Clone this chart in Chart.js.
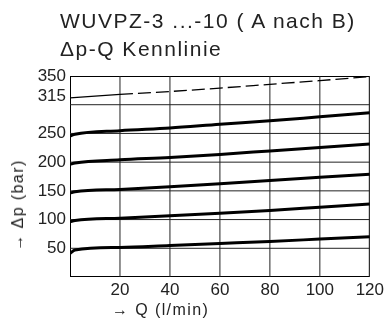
<!DOCTYPE html>
<html>
<head>
<meta charset="utf-8">
<script src="https://cdn.jsdelivr.net/npm/chart.js@4/dist/chart.umd.min.js"></script>
<style>
  html, body { margin: 0; padding: 0; background: #fff; }
  #wrap { position: relative; width: 387px; height: 320px; font-family: "Liberation Sans", Arial, sans-serif; color: #222; }
  #wrap canvas { position: absolute; left: 0; top: 0; }
  .txt { position: absolute; white-space: nowrap; line-height: 1; }
  #t1 { left: 60px; top: 10px; font-size: 21px; letter-spacing: 1.5px; }
  #t2 { left: 60px; top: 38px; font-size: 21px; letter-spacing: 1.5px; }
  #xt { left: 112px; top: 302px; font-size: 16px; letter-spacing: 1.4px; }
  #yt { left: 18px; top: 205px; font-size: 16px; letter-spacing: 1.4px; transform: translate(-50%, -50%) rotate(-90deg); }
</style>
</head>
<body>
<div id="wrap">
  <canvas id="chart" width="387" height="320"></canvas>
  <div class="txt" id="t1">WUVPZ-3 ...-10 ( A nach B)</div>
  <div class="txt" id="t2">Δp-Q Kennlinie</div>
  <div class="txt" id="xt">→ Q (l/min)</div>
  <div class="txt" id="yt">→ Δp (bar)</div>
</div>
<script>
// flow values (l/min)
const qValues = [0, 2, 20, 40, 60, 80, 100, 120];
// pressure drop curves (bar)
const p250 = [245.5, 248.5, 254.8, 259.5, 266, 272, 279, 286];
const p200 = [196, 198.5, 204, 208, 213.5, 219.5, 225.5, 231.5];
const p150 = [146, 148.5, 152.5, 157, 162.5, 168, 173.5, 179];
const p100 = [96, 98.5, 102.5, 106.5, 111, 116, 121.5, 127];
const p50 = [41, 47, 51.5, 55, 58.5, 62, 66, 70];
// 315 bar setting: solid up to 20 l/min, dashed beyond
const q315Solid = [0, 20];
const p315Solid = [312, 318];
const q315Dash = [20, 40, 60, 80, 100, 120];
const p315Dash = [318, 323, 329, 335.5, 342, 349];

const xMin = 0, xMax = 120, yMin = 0, yMax = 350;
const yTicks = [0, 50, 100, 150, 200, 250, 300, 315, 350];
const yLabels = ['', '50', '100', '150', '200', '250', '', '315', '350'];
const yGrid = [50, 100, 150, 200, 250, 300];
const xTicks = [0, 20, 40, 60, 80, 100, 120];
const xLabels = ['', '20', '40', '60', '80', '100', '120'];
const xGrid = [20, 40, 60, 80, 100];

const pts = (qs, ps) => ps.map((v, i) => ({ x: qs[i], y: v }));

function curve(qs, ps, width, dash) {
  return {
    data: pts(qs, ps),
    borderColor: '#000',
    borderWidth: width,
    borderDash: dash,
    pointRadius: 0,
    cubicInterpolationMode: 'monotone',
    order: 0
  };
}

// grid lines and frame as straight line datasets on the same scales
function rule(data, width, color) {
  return { data, borderColor: color, borderWidth: width, pointRadius: 0, tension: 0, order: 10 };
}
const gridSets = [
  ...xGrid.map(v => rule([{ x: v, y: yMin }, { x: v, y: yMax }], 1, '#222')),
  ...yGrid.map(v => rule([{ x: xMin, y: v }, { x: xMax, y: v }], 1, '#222')),
  rule([{ x: xMin, y: yMin }, { x: xMax, y: yMin }, { x: xMax, y: yMax }, { x: xMin, y: yMax }, { x: xMin, y: yMin }], 2, '#000')
];

const datasets = [
  curve(q315Solid, p315Solid, 1.3, []),
  curve(q315Dash, p315Dash, 1.3, [13, 5]),
  curve(qValues, p250, 3, []),
  curve(qValues, p200, 3, []),
  curve(qValues, p150, 3, []),
  curve(qValues, p100, 3, []),
  curve(qValues, p50, 3, []),
  ...gridSets
];

const font = { family: '"Liberation Sans", Arial, sans-serif', size: 17 };

new Chart(document.getElementById('chart'), {
  type: 'line',
  data: { datasets },
  options: {
    responsive: false,
    animation: false,
    layout: { padding: { top: 76, right: 15, left: 0, bottom: 0 } },
    plugins: { legend: { display: false }, tooltip: { enabled: false } },
    scales: {
      x: {
        type: 'linear',
        min: xMin, max: xMax,
        afterFit: s => { s.height = 43; },
        afterBuildTicks: s => { s.ticks = xTicks.map(v => ({ value: v })); },
        ticks: {
          color: '#222', font, padding: 3, maxRotation: 0, autoSkip: false,
          callback: (v, i) => xLabels[i]
        },
        grid: { display: false, drawTicks: false },
        border: { display: false }
      },
      y: {
        min: yMin, max: yMax,
        afterFit: s => { s.width = 70; },
        afterBuildTicks: s => { s.ticks = yTicks.map(v => ({ value: v })); },
        ticks: {
          color: '#222', font, padding: 4, autoSkip: false,
          callback: (v, i) => yLabels[i]
        },
        grid: { display: false, drawTicks: false },
        border: { display: false }
      }
    }
  }
});
</script>
</body>
</html>
